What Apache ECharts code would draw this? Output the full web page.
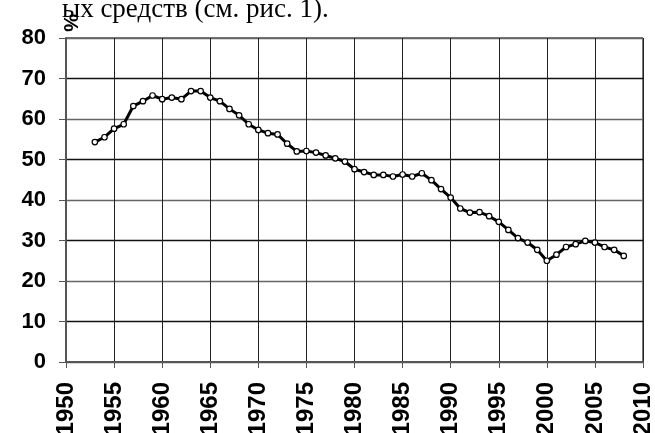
<!DOCTYPE html>
<html>
<head>
<meta charset="utf-8">
<script src="https://cdn.jsdelivr.net/npm/echarts@6/dist/echarts.min.js"></script>
<style>
  html, body { margin: 0; padding: 0; background: #fff; }
  #chart { width: 655px; height: 433px; }
</style>
</head>
<body>
<div id="chart"></div>
<script>
// годы и значения (%)
const years = [1953, 1954, 1955, 1956, 1957, 1958, 1959, 1960, 1961, 1962,
  1963, 1964, 1965, 1966, 1967, 1968, 1969, 1970, 1971, 1972,
  1973, 1974, 1975, 1976, 1977, 1978, 1979, 1980, 1981, 1982,
  1983, 1984, 1985, 1986, 1987, 1988, 1989, 1990, 1991, 1992,
  1993, 1994, 1995, 1996, 1997, 1998, 1999, 2000, 2001, 2002,
  2003, 2004, 2005, 2006, 2007, 2008];
const values = [54.3, 55.5, 57.6, 58.7, 63.2, 64.4, 65.8, 64.9, 65.3, 64.9,
  66.9, 66.9, 65.3, 64.4, 62.5, 60.9, 58.7, 57.3, 56.5, 56.2,
  53.9, 52.0, 52.1, 51.7, 51.0, 50.3, 49.5, 47.6, 46.9, 46.2,
  46.2, 45.8, 46.3, 45.8, 46.6, 44.9, 42.7, 40.6, 37.9, 36.9,
  37.0, 36.0, 34.6, 32.6, 30.6, 29.5, 27.7, 25.0, 26.5, 28.4,
  29.1, 29.9, 29.5, 28.4, 27.7, 26.2];

const chart = echarts.init(document.getElementById('chart'));

const fontFamily = '"Liberation Sans", Arial, sans-serif';

const option = {
  animation: false,
  grid: { left: 66, right: 12, top: 38, bottom: 71, outerBoundsMode: 'none' },
  graphic: [
    {
      type: 'text',
      x: 62,
      y: -4,
      style: {
        text: 'ых средств (см. рис. 1).',
        font: '27px "Liberation Serif", "Times New Roman", serif',
        fill: '#000'
      }
    },
    {
      type: 'text',
      x: 80,
      y: 14,
      rotation: -Math.PI / 2,
      style: {
        text: '%',
        font: 'bold 20px "Liberation Sans", Arial, sans-serif',
        fill: '#000'
      }
    },
    {
      type: 'line',
      shape: { x1: 66, y1: 38, x2: 643, y2: 38 },
      style: { stroke: '#777', lineWidth: 2 }
    },
    {
      type: 'line',
      shape: { x1: 643, y1: 38, x2: 643, y2: 362 },
      style: { stroke: '#777', lineWidth: 2 }
    }
  ],
  xAxis: {
    type: 'value',
    min: 1950,
    max: 2010,
    interval: 5,
    axisLine: { show: true, lineStyle: { color: '#555', width: 2 } },
    axisTick: { show: true, length: 6, lineStyle: { color: '#555', width: 1 } },
    splitLine: { show: true, lineStyle: { color: '#222', width: 1 } },
    axisLabel: {
      rotate: 90,
      margin: 20,
      formatter: v => String(v),
      fontFamily: fontFamily,
      fontWeight: 'bold',
      fontSize: 24,
      color: '#000'
    }
  },
  yAxis: {
    type: 'value',
    min: 0,
    max: 80,
    interval: 10,
    axisLine: { show: true, lineStyle: { color: '#555', width: 2 } },
    axisTick: { show: true, length: 7, lineStyle: { color: '#555', width: 1 } },
    splitLine: { show: true, lineStyle: { color: ['#666', '#111'], width: 1.3 } },
    axisLabel: {
      margin: 20,
      fontFamily: fontFamily,
      fontWeight: 'bold',
      fontSize: 22,
      color: '#000'
    }
  },
  series: [{
    type: 'line',
    data: years.map((y, i) => [y, values[i]]),
    symbol: 'circle',
    symbolSize: 5.5,
    showAllSymbol: true,
    lineStyle: { color: '#000', width: 3 },
    itemStyle: { color: '#fff', borderColor: '#000', borderWidth: 1.2 }
  }]
};

chart.setOption(option);
</script>
</body>
</html>
